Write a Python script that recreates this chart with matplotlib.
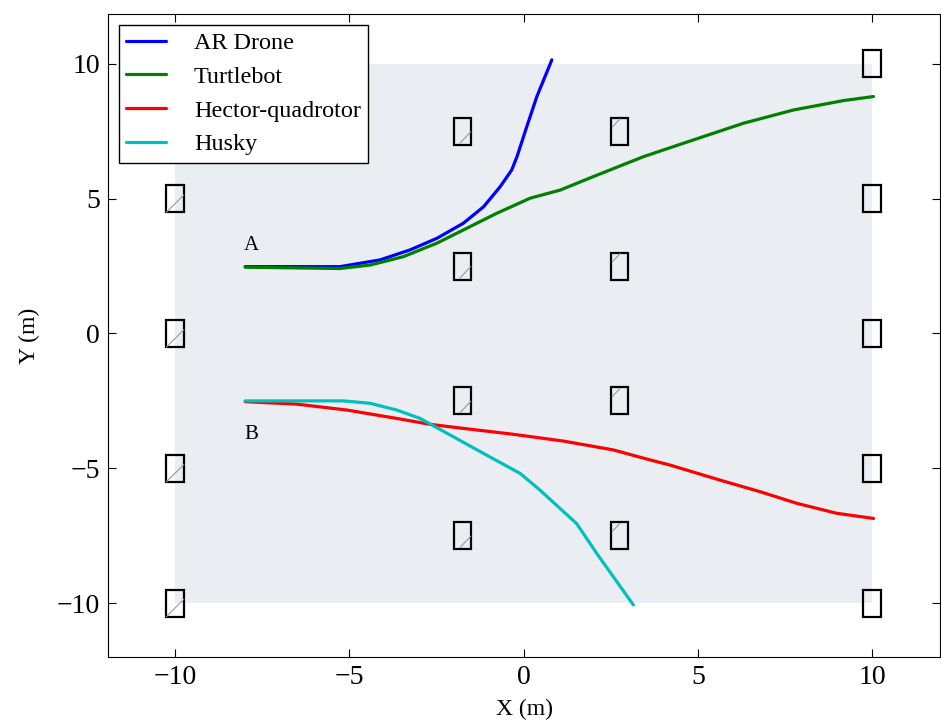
import matplotlib
matplotlib.use("Agg")
import matplotlib.pyplot as plt
from matplotlib.patches import Rectangle
import numpy as np

plt.rcParams['font.family'] = 'serif'
plt.rcParams['font.serif'] = ['Liberation Serif', 'DejaVu Serif']
plt.rcParams['mathtext.fontset'] = 'stix'
plt.rcParams['axes.unicode_minus'] = True

# Trajectories
ar_x = [-7.99, -5.27, -4.12, -3.26, -2.49, -1.73, -1.15, -0.67, -0.34, -0.19, 0.09, 0.38, 0.81]
ar_y = [2.48, 2.48, 2.73, 3.10, 3.53, 4.09, 4.70, 5.45, 6.07, 6.56, 7.67, 8.79, 10.15]

tb_x = [-7.99, -5.27, -4.40, -3.45, -2.49, -1.73, -0.77, 0.19, 1.05, 2.00, 3.44, 4.87, 6.31, 7.74, 9.18, 10.04]
tb_y = [2.46, 2.41, 2.54, 2.85, 3.35, 3.84, 4.46, 5.02, 5.32, 5.82, 6.56, 7.18, 7.80, 8.29, 8.64, 8.79]

hq_x = [-7.99, -6.51, -5.07, -3.64, -2.68, -1.73, -0.29, 1.14, 2.58, 3.63, 4.20, 5.64, 6.79, 7.84, 8.99, 10.04]
hq_y = [-2.53, -2.62, -2.84, -3.15, -3.37, -3.52, -3.74, -3.99, -4.32, -4.69, -4.88, -5.44, -5.87, -6.30, -6.67, -6.86]

hu_x = [-7.99, -5.17, -4.40, -3.64, -2.97, -2.20, -1.15, -0.10, 0.47, 1.52, 2.10, 3.15]
hu_y = [-2.50, -2.50, -2.59, -2.84, -3.15, -3.70, -4.45, -5.19, -5.81, -7.05, -8.16, -10.07]

labels = ['AR Drone', 'Turtlebot', 'Hector-quadrotor', 'Husky']
colors = ['#0000ff', '#008000', '#ff0000', '#00bfbf']

# Obstacles (centers)
obs_cols_x = [-10.0, -1.75, 2.75, 10.0]
obs_edge_y = [10.0, 5.0, 0.0, -5.0, -10.0]
obs_mid_y = [7.5, 2.5, -2.5, -7.5]
obs_w, obs_h = 0.5, 1.0

fig = plt.figure(figsize=(9.41, 7.2), dpi=100)
ax = fig.add_axes([0.115, 0.0875, 0.884, 0.893])

ax.add_patch(Rectangle((-10, -10), 20, 20, facecolor='#eaedf2', edgecolor='none', zorder=0))

# diagonal fractions per column (x0, y0, x1, y1) inside box
diag = {
    -10.0: (0.0, 0.0, 1.0, 0.64),
    -1.75: (0.35, 0.06, 0.96, 0.48),
    2.75: (0.09, 0.66, 0.53, 0.96),
}

def draw_obs(cx, cy):
    x0, y0 = cx - obs_w / 2, cy - obs_h / 2
    ax.add_patch(Rectangle((x0, y0), obs_w, obs_h, facecolor='none',
                           edgecolor='black', lw=1.6, zorder=2))
    if cx in diag:
        a, b, c, d = diag[cx]
        ax.plot([x0 + a * obs_w, x0 + c * obs_w], [y0 + b * obs_h, y0 + d * obs_h],
                color='#999999', lw=0.8, zorder=2)

for cx in obs_cols_x:
    ys = obs_edge_y if cx in (-10.0, 10.0) else obs_mid_y
    for cy in ys:
        draw_obs(cx, cy)

for xs, ys, lab, c in zip([ar_x, tb_x, hq_x, hu_x], [ar_y, tb_y, hq_y, hu_y], labels, colors):
    ax.plot(xs, ys, color=c, lw=2.3, label=lab, solid_capstyle='round',
            solid_joinstyle='round', zorder=3)

ax.text(-7.8, 3.25, 'A', fontsize=15, ha='center', va='center')
ax.text(-7.8, -3.75, 'B', fontsize=15, ha='center', va='center')

ax.set_xlim(-11.92, 11.95)
ax.set_ylim(-12, 11.85)
ax.set_xticks([-10, -5, 0, 5, 10])
ax.set_yticks([-10, -5, 0, 5, 10])
ax.tick_params(direction='in', length=6, width=0.8, top=True, right=True, labelsize=20, pad=6)
ax.set_xlabel('X (m)', fontsize=17, labelpad=6)
ax.set_ylabel('Y (m)', fontsize=17, labelpad=12)

leg = ax.legend(loc='upper left', fontsize=17.4, frameon=True, fancybox=False,
                edgecolor='black', framealpha=1, handlelength=1.65, borderpad=0.3,
                labelspacing=0.49, handletextpad=1.15, borderaxespad=0.45)
leg.get_frame().set_linewidth(1.0)

fig.savefig('out.png', dpi=100)
